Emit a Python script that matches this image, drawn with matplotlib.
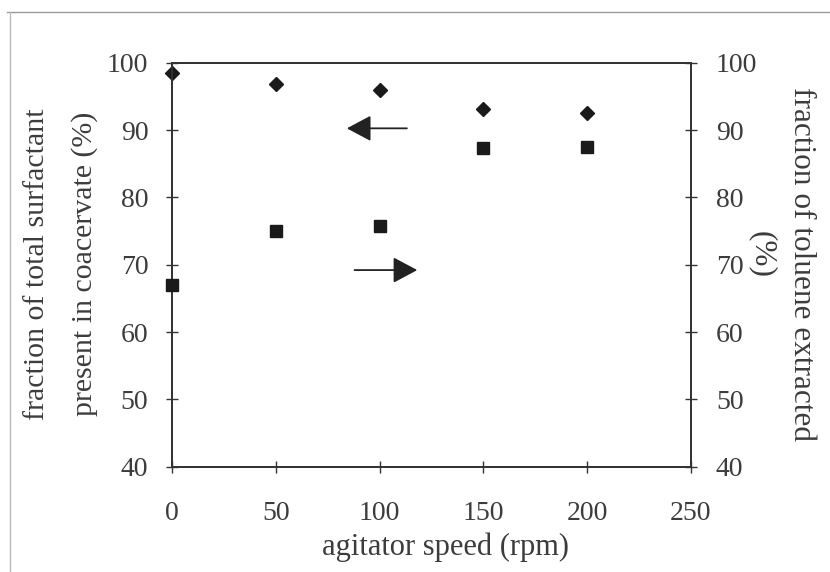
import numpy as np
import matplotlib.pyplot as plt
from matplotlib.lines import Line2D

plt.rcParams['font.family'] = ['Liberation Serif', 'DejaVu Serif']

# data
speed = [0, 50, 100, 150, 200]
surfactant = [98.4, 96.9, 95.9, 93.1, 92.5]   # left axis, diamonds
toluene = [67.0, 75.0, 75.7, 87.4, 87.5]      # right axis, squares

txt = '#3c3c3c'

fig = plt.figure(figsize=(8.30, 5.72), dpi=100)
ax = fig.add_axes([0.2072, 0.1841, 0.6253, 0.7063])
ax2 = ax.twinx()

ax.plot(speed, surfactant, 'D', color='#1a1a1a', ms=7.5, zorder=3, clip_on=False)
ax2.plot(speed, toluene, 's', color='#1a1a1a', ms=9, zorder=3, clip_on=False)

ax.set_xlim(0, 250)
ax.set_ylim(40, 100)
ax2.set_ylim(40, 100)
ax.set_xticks(np.arange(0, 251, 50))
ax.set_yticks(np.arange(40, 101, 10))
ax2.set_yticks(np.arange(40, 101, 10))

for a in (ax, ax2):
    a.tick_params(direction='inout', length=8, width=1, labelsize=20,
                  colors='#333333', labelcolor=txt)
    for s in a.spines.values():
        s.set_color('#333333')
        s.set_linewidth(1.3)
ax.tick_params(axis='x', pad=21)
ax.tick_params(axis='y', pad=13)
ax2.tick_params(axis='y', pad=14)

# axis titles, placed line by line like in the original
fig.text(0.537, 0.044, 'agitator speed (rpm)', fontsize=22, color=txt,
         ha='center', va='center')
fig.text(0.0446, 0.538, 'fraction of total surfactant', fontsize=21.5,
         color=txt, rotation=90, ha='center', va='center')
fig.text(0.1024, 0.538, 'present in coacervate (%)', fontsize=21.5,
         color=txt, rotation=90, ha='center', va='center')
fig.text(0.966, 0.538, 'fraction of toluene extracted', fontsize=22.5,
         color=txt, rotation=270, ha='center', va='center')
fig.text(0.918, 0.555, '(%)', fontsize=22.5, color=txt, rotation=270,
         ha='center', va='center')

# arrows pointing to the relevant axis
arrow = dict(arrowstyle='-|>,head_length=1.5,head_width=0.8',
             color='#222222', lw=1.3)
ax.annotate('', xy=(82.9, 90.25), xytext=(114.5, 90.25), arrowprops=arrow)
ax.annotate('', xy=(119.5, 69.2), xytext=(86.6, 69.2), arrowprops=arrow)

# faint outer frame of the scanned figure
fig.add_artist(Line2D([0.008, 1.0], [0.979, 0.979], color='#999999', lw=1))
fig.add_artist(Line2D([0.012, 0.012], [0.0, 0.979], color='#bbbbbb', lw=1))

fig.savefig('out.png', dpi=100)
